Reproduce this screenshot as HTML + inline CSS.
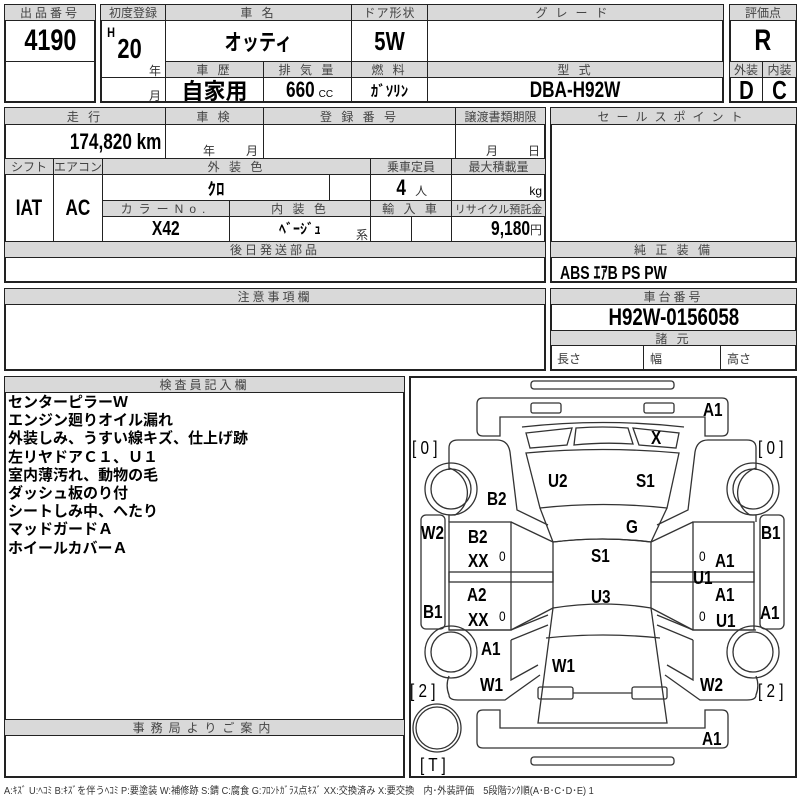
<!DOCTYPE html>
<html><head><meta charset="utf-8"><style>
body{margin:0;width:800px;height:800px;background:#fff;position:relative;overflow:hidden;font-family:"Liberation Sans","Noto Sans CJK JP",sans-serif;}
.c{position:absolute;box-sizing:border-box;border:1px solid #222;display:flex;align-items:center;justify-content:center;white-space:nowrap;}
.h{background:#d9d9d9;color:#444;font-size:12px;letter-spacing:3px;font-family:"Liberation Sans","Noto Sans CJK JP",sans-serif;}
.b{position:absolute;box-sizing:border-box;border:2px solid #222;}
.v{font-weight:bold;color:#000;}
.t{position:absolute;color:#000;white-space:nowrap;}
.s{font-size:12px;color:#333;font-family:"Liberation Sans","Noto Sans CJK JP",sans-serif;}
.n{display:inline-block;transform:scaleX(.78);}
.nr{display:inline-block;transform:scaleX(.78);transform-origin:right center;}
.lab span{transform:scaleX(.85);transform-origin:left top;}
</style></head><body>

<!-- box1 -->
<div class="b" style="left:4px;top:4px;width:92px;height:99px"></div>
<div class="c h" style="left:4px;top:4px;width:92px;height:17px">出品番号</div>
<div class="c v" style="left:4px;top:20px;width:92px;height:42px;font-size:30px"><span class="n">4190</span></div>

<!-- box2 -->
<div class="b" style="left:100px;top:4px;width:624px;height:99px"></div>
<div class="c h" style="left:100px;top:4px;width:66px;height:17px;letter-spacing:0">初度登録</div>
<div class="c h" style="left:165px;top:4px;width:187px;height:17px">車 名</div>
<div class="c h" style="left:351px;top:4px;width:77px;height:17px;letter-spacing:1px">ドア形状</div>
<div class="c h" style="left:427px;top:4px;width:297px;height:17px;letter-spacing:8px">グレード</div>
<div class="c" style="left:100px;top:20px;width:66px;height:58px"></div>
<div class="t v" style="left:106px;top:24px;font-size:14px"><span class="n">H</span></div>
<div class="t v" style="left:114px;top:33px;font-size:28px"><span class="n">20</span></div>
<div class="t s" style="left:149px;top:62px">年</div>
<div class="c" style="left:100px;top:77px;width:66px;height:26px"></div>
<div class="t s" style="left:149px;top:87px">月</div>
<div class="c v" style="left:165px;top:20px;width:187px;height:42px;font-size:22px;font-family:'Noto Sans CJK JP',sans-serif"><span class="n">オッティ</span></div>
<div class="c v" style="left:351px;top:20px;width:77px;height:42px;font-size:26px"><span class="n">5W</span></div>
<div class="c" style="left:427px;top:20px;width:297px;height:42px"></div>
<div class="c h" style="left:165px;top:61px;width:99px;height:17px">車 歴</div>
<div class="c h" style="left:263px;top:61px;width:89px;height:17px">排 気 量</div>
<div class="c h" style="left:351px;top:61px;width:77px;height:17px">燃 料</div>
<div class="c h" style="left:427px;top:61px;width:297px;height:17px">型 式</div>
<div class="c v" style="left:165px;top:77px;width:99px;height:26px;font-size:22px;font-family:'Noto Sans CJK JP',sans-serif">自家用</div>
<div class="c v" style="left:263px;top:77px;width:89px;height:26px;font-size:22px"><span class="n">660</span><span style="font-size:10px;font-weight:normal;margin-top:8px">CC</span></div>
<div class="c v" style="left:351px;top:77px;width:77px;height:26px;font-size:15px;font-family:'Noto Sans CJK JP',sans-serif">ｶﾞｿﾘﾝ</div>
<div class="c v" style="left:427px;top:77px;width:297px;height:26px;font-size:22px"><span class="n">DBA-H92W</span></div>

<!-- box3 -->
<div class="b" style="left:729px;top:4px;width:68px;height:99px"></div>
<div class="c h" style="left:729px;top:4px;width:68px;height:17px;letter-spacing:0">評価点</div>
<div class="c v" style="left:729px;top:20px;width:68px;height:42px;font-size:30px"><span class="n">R</span></div>
<div class="c h" style="left:729px;top:61px;width:34px;height:17px;letter-spacing:0">外装</div>
<div class="c h" style="left:762px;top:61px;width:35px;height:17px;letter-spacing:0">内装</div>
<div class="c v" style="left:729px;top:77px;width:34px;height:26px;font-size:26px"><span class="n">D</span></div>
<div class="c v" style="left:762px;top:77px;width:35px;height:26px;font-size:26px"><span class="n">C</span></div>

<!-- row2 -->
<div class="b" style="left:4px;top:107px;width:542px;height:176px"></div>
<div class="c h" style="left:4px;top:107px;width:162px;height:18px">走 行</div>
<div class="c h" style="left:165px;top:107px;width:99px;height:18px">車 検</div>
<div class="c h" style="left:263px;top:107px;width:193px;height:18px">登 録 番 号</div>
<div class="c h" style="left:455px;top:107px;width:91px;height:18px;letter-spacing:0">譲渡書類期限</div>
<div class="c v" style="left:4px;top:124px;width:162px;height:35px;font-size:22px;justify-content:flex-end;padding-right:4px"><span class="nr">174,820 km</span></div>
<div class="c" style="left:165px;top:124px;width:99px;height:35px"></div>
<div class="t s" style="left:203px;top:142px">年</div><div class="t s" style="left:246px;top:142px">月</div>
<div class="c" style="left:263px;top:124px;width:193px;height:35px"></div>
<div class="c" style="left:455px;top:124px;width:91px;height:35px"></div>
<div class="t s" style="left:486px;top:142px">月</div><div class="t s" style="left:528px;top:142px">日</div>
<div class="c h" style="left:4px;top:158px;width:50px;height:17px;letter-spacing:0">シフト</div>
<div class="c h" style="left:53px;top:158px;width:50px;height:17px;letter-spacing:0">エアコン</div>
<div class="c h" style="left:102px;top:158px;width:269px;height:17px">外 装 色</div>
<div class="c h" style="left:370px;top:158px;width:82px;height:17px;letter-spacing:0">乗車定員</div>
<div class="c h" style="left:451px;top:158px;width:95px;height:17px;letter-spacing:0">最大積載量</div>
<div class="c v" style="left:4px;top:174px;width:50px;height:68px;font-size:22px"><span class="n">IAT</span></div>
<div class="c v" style="left:53px;top:174px;width:50px;height:68px;font-size:22px"><span class="n">AC</span></div>
<div class="c v" style="left:102px;top:174px;width:228px;height:27px;font-size:17px;font-family:'Noto Sans CJK JP',sans-serif">ｸﾛ</div>
<div class="c" style="left:329px;top:174px;width:42px;height:27px"></div>
<div class="c v" style="left:370px;top:174px;width:82px;height:27px;font-size:22px"><span class="n">4</span><span class="s" style="font-weight:normal;margin-left:8px;margin-top:6px">人</span></div>
<div class="c" style="left:451px;top:174px;width:95px;height:27px;justify-content:flex-end;padding-right:3px;padding-top:6px;font-size:12px">kg</div>
<div class="c h" style="left:102px;top:200px;width:128px;height:17px;letter-spacing:6px">カラーNo.</div>
<div class="c h" style="left:229px;top:200px;width:142px;height:17px">内 装 色</div>
<div class="c h" style="left:370px;top:200px;width:82px;height:17px">輸 入 車</div>
<div class="c h" style="left:451px;top:200px;width:95px;height:17px;letter-spacing:0;font-size:11px">リサイクル預託金</div>
<div class="c v" style="left:102px;top:216px;width:128px;height:26px;font-size:20px"><span class="n">X42</span></div>
<div class="c v" style="left:229px;top:216px;width:142px;height:26px;font-size:14px;font-family:'Noto Sans CJK JP',sans-serif">ﾍﾞｰｼﾞｭ</div>
<div class="t s" style="left:356px;top:226px">系</div>
<div class="c" style="left:370px;top:216px;width:42px;height:26px"></div>
<div class="c" style="left:411px;top:216px;width:41px;height:26px"></div>
<div class="c v" style="left:451px;top:216px;width:95px;height:26px;font-size:20px;justify-content:flex-end;padding-right:3px"><span class="nr">9,180</span><span class="s" style="font-weight:normal">円</span></div>
<div class="c h" style="left:4px;top:241px;width:542px;height:17px">後日発送部品</div>

<!-- sales point -->
<div class="b" style="left:550px;top:107px;width:247px;height:176px"></div>
<div class="c h" style="left:550px;top:107px;width:247px;height:18px;letter-spacing:7px">セールスポイント</div>
<div class="c h" style="left:550px;top:241px;width:247px;height:17px">純 正 装 備</div>
<div class="t v" style="left:560px;top:259px;font-size:18px"><span class="n" style="transform-origin:left center">ABS ｴｱB PS PW</span></div>

<!-- notes -->
<div class="b" style="left:4px;top:288px;width:542px;height:83px"></div>
<div class="c h" style="left:4px;top:288px;width:542px;height:17px">注意事項欄</div>
<div class="b" style="left:550px;top:288px;width:247px;height:83px"></div>
<div class="c h" style="left:550px;top:288px;width:247px;height:17px">車台番号</div>
<div class="c v" style="left:550px;top:304px;width:247px;height:27px;font-size:24px"><span class="n">H92W-0156058</span></div>
<div class="c h" style="left:550px;top:330px;width:247px;height:16px">諸 元</div>
<div class="c s" style="left:550px;top:345px;width:94px;height:26px;justify-content:flex-start;padding-left:6px">長さ</div>
<div class="c s" style="left:643px;top:345px;width:78px;height:26px;justify-content:flex-start;padding-left:6px">幅</div>
<div class="c s" style="left:720px;top:345px;width:77px;height:26px;justify-content:flex-start;padding-left:6px">高さ</div>

<!-- inspector -->
<div class="b" style="left:4px;top:376px;width:401px;height:402px"></div>
<div class="c h" style="left:4px;top:376px;width:401px;height:17px">検査員記入欄</div>
<div class="t" style="left:8px;top:393px;font-size:15px;line-height:18.2px;font-weight:bold;font-family:'Noto Sans CJK JP',sans-serif">センターピラーＷ<br>エンジン廻りオイル漏れ<br>外装しみ、うすい線キズ、仕上げ跡<br>左リヤドアＣ１、Ｕ１<br>室内薄汚れ、動物の毛<br>ダッシュ板のり付<br>シートしみ中、へたり<br>マッドガードＡ<br>ホイールカバーＡ</div>
<div class="c h" style="left:4px;top:719px;width:401px;height:17px;letter-spacing:6px">事務局よりご案内</div>

<!-- diagram -->
<div class="b" style="left:409px;top:376px;width:388px;height:402px"></div>
<svg style="position:absolute;left:0;top:0" width="800" height="800" fill="none" stroke="#333" stroke-width="1.3">
<rect x="531" y="381" width="143" height="8" rx="3"/>
<rect x="531" y="757" width="143" height="8" rx="3"/>
<path d="M483,398 H722 Q728,398 728,404 V430 Q728,436 722,436 H705 V417 H500 V436 H483 Q477,436 477,430 V404 Q477,398 483,398 Z"/>
<path d="M483,748 H722 Q728,748 728,742 V716 Q728,710 722,710 H705 V728 H500 V710 H483 Q477,710 477,716 V742 Q477,748 483,748 Z"/>
<rect x="531" y="403" width="30" height="10" rx="2"/>
<rect x="644" y="403" width="30" height="10" rx="2"/>
<path d="M522,427 Q603,418 684,427"/>
<path d="M526,433 L572,428 L567,445 L530,448 Z"/>
<path d="M576,428 Q603,426 628,428 L633,444 Q603,442 574,445 Z"/>
<path d="M633,428 L679,433 L676,448 L639,445 Z"/>
<path d="M526,453 Q603,446 679,453 L667,508 Q603,501 540,508 Z"/>
<path d="M540,508 L553,542 Q603,536 651,542 L667,508"/>
<path d="M553,542 Q603,536 651,542 L651,608 Q603,600 553,608 Z"/>
<path d="M553,608 L538,723 H667 L651,608"/>
<path d="M546,638 Q603,632 660,638"/>
<rect x="538" y="687" width="35" height="12" rx="2"/><rect x="632" y="687" width="35" height="12" rx="2"/>
<line x1="573" y1="693" x2="632" y2="693"/>
<rect x="449" y="522" width="62" height="108"/><rect x="449" y="572" width="104" height="10"/>
<rect x="693" y="522" width="61" height="108"/><rect x="651" y="572" width="103" height="10"/>
<line x1="511" y1="522" x2="553" y2="542"/><line x1="511" y1="630" x2="553" y2="608"/>
<line x1="693" y1="522" x2="651" y2="542"/><line x1="693" y1="630" x2="651" y2="608"/>
<rect x="421" y="515" width="24" height="114" rx="5"/><rect x="760" y="515" width="24" height="114" rx="5"/>
<path d="M449,470 V448 Q449,440 458,440 H497 Q508,440 510,452 L517,510 L548,525 M449,468 A26,26 0 0 1 455,515 H449 V522"/>
<path d="M756,470 V448 Q756,440 747,440 H708 Q697,440 695,452 L688,510 L657,525 M756,468 A26,26 0 0 0 750,515 H756 V522"/>
<path d="M449,630 H511 L548,615 M511,640 L548,625 M511,640 V680 L538,665 M449,676 A26,26 0 0 0 449,695 Q449,700 458,700 H505 L540,675"/>
<path d="M756,630 H693 L657,615 M693,640 L657,625 M693,640 V680 L667,665 M756,676 A26,26 0 0 1 756,695 Q756,700 747,700 H700 L665,675"/>
<circle cx="451" cy="489" r="26"/><circle cx="451" cy="489" r="20"/>
<circle cx="753" cy="489" r="26"/><circle cx="753" cy="489" r="20"/>
<circle cx="451" cy="652" r="26"/><circle cx="451" cy="652" r="20"/>
<circle cx="753" cy="652" r="26"/><circle cx="753" cy="652" r="20"/>
<circle cx="437" cy="728" r="24"/><circle cx="437" cy="728" r="21"/>
</svg>
<div class="lab" style="position:absolute;left:0;top:0;font-weight:bold;font-size:18px">
<span class="t" style="left:703px;top:400px">A1</span>
<span class="t" style="left:651px;top:428px">X</span>
<span class="t" style="left:412px;top:438px;font-weight:normal">[ 0 ]</span>
<span class="t" style="left:758px;top:438px;font-weight:normal">[ 0 ]</span>
<span class="t" style="left:548px;top:471px">U2</span>
<span class="t" style="left:636px;top:471px">S1</span>
<span class="t" style="left:487px;top:489px">B2</span>
<span class="t" style="left:626px;top:517px">G</span>
<span class="t" style="left:421px;top:523px">W2</span>
<span class="t" style="left:468px;top:527px">B2</span>
<span class="t" style="left:761px;top:523px">B1</span>
<span class="t" style="left:591px;top:546px">S1</span>
<span class="t" style="left:468px;top:551px">XX</span>
<span class="t" style="left:499px;top:548px;font-weight:normal;font-size:14px">0</span>
<span class="t" style="left:699px;top:548px;font-weight:normal;font-size:14px">0</span>
<span class="t" style="left:715px;top:551px">A1</span>
<span class="t" style="left:693px;top:568px">U1</span>
<span class="t" style="left:467px;top:585px">A2</span>
<span class="t" style="left:591px;top:587px">U3</span>
<span class="t" style="left:715px;top:585px">A1</span>
<span class="t" style="left:423px;top:602px">B1</span>
<span class="t" style="left:468px;top:610px">XX</span>
<span class="t" style="left:499px;top:608px;font-weight:normal;font-size:14px">0</span>
<span class="t" style="left:699px;top:608px;font-weight:normal;font-size:14px">0</span>
<span class="t" style="left:760px;top:603px">A1</span>
<span class="t" style="left:716px;top:611px">U1</span>
<span class="t" style="left:481px;top:639px">A1</span>
<span class="t" style="left:552px;top:656px">W1</span>
<span class="t" style="left:480px;top:675px">W1</span>
<span class="t" style="left:700px;top:675px">W2</span>
<span class="t" style="left:410px;top:681px;font-weight:normal">[ 2 ]</span>
<span class="t" style="left:758px;top:681px;font-weight:normal">[ 2 ]</span>
<span class="t" style="left:702px;top:729px">A1</span>
<span class="t" style="left:420px;top:755px;font-weight:normal">[ T ]</span>
</div>
<div class="t" style="left:4px;top:782px;font-size:10px;color:#333;transform:scaleX(.92);transform-origin:left top;font-family:'Liberation Sans','Noto Sans CJK JP',sans-serif">A:ｷｽﾞ U:ﾍｺﾐ B:ｷｽﾞを伴うﾍｺﾐ P:要塗装 W:補修跡 S:錆 C:腐食 G:ﾌﾛﾝﾄｶﾞﾗｽ点ｷｽﾞ XX:交換済み X:要交換　内･外装評価　5段階ﾗﾝｸ順(A･B･C･D･E) 1</div>
</body></html>
